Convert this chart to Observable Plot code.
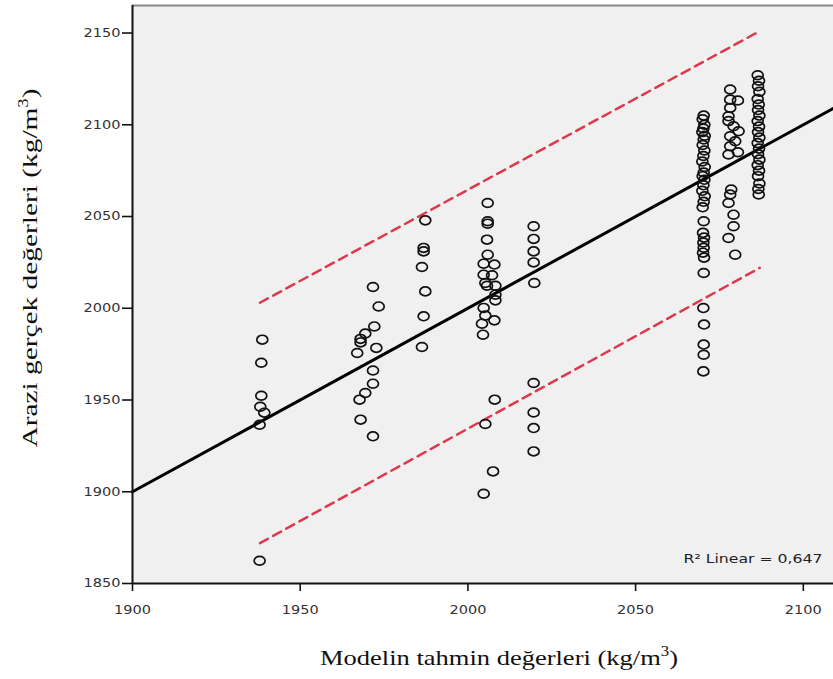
<!DOCTYPE html>
<html>
<head>
<meta charset="utf-8">
<script src="https://cdn.jsdelivr.net/npm/d3@7"></script>
<script src="https://cdn.jsdelivr.net/npm/@observablehq/plot@0.6"></script>
<style>
  html, body { margin: 0; padding: 0; background: #ffffff; }
  #chart { width: 833px; height: 679px; }
  svg { display: block; }
</style>
</head>
<body>
<div id="chart"></div>
<script>
// ---- Data ----
const predicted = [
  // ~1938
  1938.7, 1938.4, 1938.4, 1938.1, 1939.3, 1937.9, 1937.9,
  // ~1970
  1971.7, 1973.4, 1972.1, 1969.4, 1968.0, 1968.0, 1967.0, 1972.7, 1971.7, 1971.7, 1969.4, 1967.7, 1968.0, 1971.7,
  // ~1987
  1987.3, 1986.8, 1986.8, 1986.3, 1987.3, 1986.8, 1986.3,
  // ~2006
  2005.9, 2005.9, 2005.9, 2005.7, 2005.9, 2004.7, 2007.9, 2004.7, 2007.2, 2005.2, 2005.7, 2008.2, 2008.2, 2008.2,
  2004.7, 2005.2, 2004.2, 2007.9, 2004.5, 2008.0, 2005.2, 2007.5, 2004.7,
  // ~2020
  2019.6, 2019.6, 2019.6, 2019.6, 2019.8, 2019.6, 2019.6, 2019.6, 2019.6,
  // ~2070
  2070.3, 2070.0, 2070.5, 2070.2, 2069.9, 2070.6, 2070.3, 2070.0, 2070.5, 2070.2, 2069.9, 2070.6, 2070.3, 2070.0,
  2070.5, 2070.2, 2069.9, 2070.6, 2070.3, 2070.0, 2070.3, 2070.1, 2070.4, 2070.2, 2070.3, 2070.1, 2070.4, 2070.3,
  2070.2, 2070.4, 2070.3, 2070.3, 2070.2,
  // ~2078
  2078.2, 2078.2, 2080.5, 2078.2, 2077.7, 2077.7, 2079.2, 2080.7, 2078.2, 2079.7, 2078.2, 2077.7, 2080.5, 2078.5,
  2078.2, 2077.7, 2079.2, 2079.2, 2077.7, 2079.7,
  // ~2087
  2086.4, 2086.8, 2086.5, 2086.9, 2086.4, 2086.7, 2086.5, 2086.9, 2086.4, 2086.8, 2086.5, 2086.9, 2086.4, 2086.8,
  2086.5, 2086.9, 2086.4, 2086.8, 2086.5, 2086.9, 2086.6, 2086.7
];
const actual = [
  1982.9, 1970.3, 1952.3, 1946.3, 1943.1, 1936.5, 1862.4,
  2011.6, 2001.0, 1990.1, 1986.2, 1983.3, 1981.4, 1975.6, 1978.4, 1966.1, 1958.9, 1953.8, 1950.2, 1939.3, 1930.2,
  2047.9, 2032.9, 2031.0, 2022.5, 2009.2, 1995.6, 1978.9,
  2057.4, 2047.4, 2046.1, 2037.4, 2029.2, 2024.3, 2023.8, 2018.3, 2018.0, 2013.8, 2012.3, 2012.3, 2007.4, 2004.3,
  2000.2, 1996.0, 1991.6, 1993.4, 1985.6, 1950.2, 1936.9, 1911.1, 1898.9,
  2044.7, 2037.8, 2031.0, 2025.0, 2013.8, 1959.3, 1943.2, 1934.7, 1922.0,
  2105.0, 2103.0, 2100.0, 2098.0, 2096.0, 2094.0, 2092.0, 2089.0, 2086.0, 2083.0, 2080.0, 2077.0, 2074.0, 2072.0,
  2070.0, 2067.0, 2064.0, 2061.0, 2058.0, 2055.0, 2047.4, 2041.1, 2038.5, 2035.8, 2033.0, 2030.3, 2027.6, 2019.2,
  2000.1, 1991.1, 1980.2, 1974.7, 1965.6,
  2119.2, 2113.7, 2113.2, 2109.2, 2104.6, 2102.0, 2099.2, 2096.5, 2093.7, 2091.0, 2088.3, 2083.8, 2085.0, 2064.7,
  2062.0, 2057.4, 2051.0, 2044.7, 2038.3, 2029.2,
  2127.0, 2124.0, 2121.0, 2118.0, 2114.0, 2111.0, 2108.0, 2105.0, 2102.0, 2099.0, 2096.0, 2093.0, 2090.0, 2087.0,
  2084.0, 2081.0, 2078.0, 2075.0, 2072.0, 2068.0, 2065.0, 2062.0
];

// Fit line (y = x) and the 95% prediction interval lines
const fitX = [1900, 2109];
const fitY = [1900, 2109];
const intervalX = [1938, 2087];
const intervalUpper = [2003, 2151];
const intervalLower = [1872, 2022];

const xTicks = [1900, 1950, 2000, 2050, 2100];
const yTicks = [1850, 1900, 1950, 2000, 2050, 2100, 2150];
const r2Label = "R² Linear = 0,647";
const xTitle = ["Modelin tahmin değerleri (kg/m", "3", ")"];
const yTitle = ["Arazi gerçek değerleri (kg/m", "3", ")"];

// ---- Build tables ----
const points = predicted.map((p, i) => ({p, a: actual[i]}));
const fit = fitX.map((x, i) => ({x, y: fitY[i]}));
const bands = [
  ...intervalX.map((x, i) => ({x, y: intervalUpper[i], k: "upper"})),
  ...intervalX.map((x, i) => ({x, y: intervalLower[i], k: "lower"}))
];

// Slightly wide ellipse symbol (the reference is horizontally stretched)
const ellipse = {
  draw(ctx, size) {
    const r = Math.sqrt(size / Math.PI);
    const rx = r * 1.12, ry = r * 0.9, k = 0.5523;
    ctx.moveTo(rx, 0);
    ctx.bezierCurveTo(rx, ry * k, rx * k, ry, 0, ry);
    ctx.bezierCurveTo(-rx * k, ry, -rx, ry * k, -rx, 0);
    ctx.bezierCurveTo(-rx, -ry * k, -rx * k, -ry, 0, -ry);
    ctx.bezierCurveTo(rx * k, -ry, rx, -ry * k, rx, 0);
    ctx.closePath();
  }
};

const chart = Plot.plot({
  width: 833,
  height: 679,
  marginLeft: 132,
  marginRight: 0,
  marginTop: 5,
  marginBottom: 96,
  style: {fontFamily: "DejaVu Sans, sans-serif", fontSize: "12px", color: "#333", background: "#ffffff"},
  x: {domain: [1900, 2109], ticks: xTicks, tickSize: 8, tickPadding: 14, tickFormat: d => String(d), label: null},
  y: {domain: [1850, 2165], ticks: yTicks, tickSize: 10, tickPadding: 2, tickFormat: d => String(d), label: null},
  marks: [
    Plot.frame({fill: "#f0f0f0", stroke: "none"}),
    Plot.ruleY([2165], {stroke: "#8a8a8a", strokeWidth: 2}),
    Plot.line(bands, {x: "x", y: "y", z: "k", stroke: "#dc3a4c", strokeWidth: 2.5, strokeDasharray: "9,6"}),
    Plot.line(fit, {x: "x", y: "y", stroke: "#000", strokeWidth: 3}),
    Plot.dot(points, {x: "p", y: "a", r: 4.9, symbol: ellipse, stroke: "#111", strokeWidth: 1.7, fill: "none"}),
    Plot.ruleX([1900], {stroke: "#111", strokeWidth: 2}),
    Plot.ruleY([1850], {stroke: "#111", strokeWidth: 2}),
    Plot.text([r2Label], {frameAnchor: "bottom-right", text: d => d, dx: -11, dy: -24.7, lineAnchor: "middle",
      textAnchor: "end", fontSize: 12, fill: "#222"})
  ]
});

document.getElementById("chart").appendChild(chart);

const svg = d3.select(chart);
// tick styling
svg.selectAll('g[aria-label*="axis"] path, g[aria-label*="axis"] line').attr("stroke", "#111").attr("stroke-width", 1.6);
svg.selectAll('g[aria-label*="axis"] text')
  .attr("textLength", 37).attr("lengthAdjust", "spacingAndGlyphs").attr("fill", "#333");
svg.selectAll("text")
  .filter(function() { return this.textContent.includes("Linear"); })
  .attr("textLength", 139).attr("lengthAdjust", "spacingAndGlyphs");

function addTitle(parts, attrs, len) {
  const t = svg.append("text")
    .attr("font-family", "'Liberation Serif', serif")
    .attr("font-size", 22)
    .attr("fill", "#111")
    .attr("text-anchor", "middle");
  for (const [k, v] of Object.entries(attrs)) t.attr(k, v);
  t.append("tspan").text(parts[0]);
  t.append("tspan").attr("dy", -9).attr("font-size", 14).text(parts[1]);
  t.append("tspan").attr("dy", 9).text(parts[2]);
  t.attr("textLength", len).attr("lengthAdjust", "spacingAndGlyphs");
}
addTitle(xTitle, {x: 499, y: 665}, 358);
addTitle(yTitle, {transform: "translate(37,268) rotate(-90)"}, 359);
</script>
</body>
</html>
